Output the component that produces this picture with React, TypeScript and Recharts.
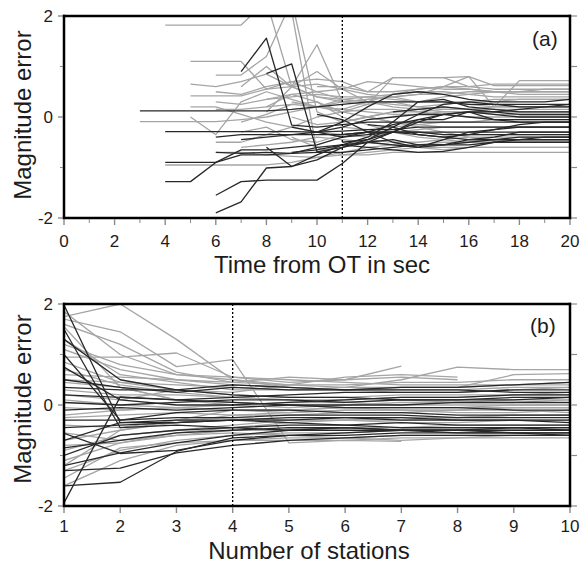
import { LineChart, Line, XAxis, YAxis, ReferenceLine } from "recharts"

const FONT = "'Liberation Sans', Arial, Helvetica, sans-serif"

// tick values
const secTicks = [0, 1, 2, 3, 4, 5, 6, 7, 8, 9, 10, 11, 12, 13, 14, 15, 16, 17, 18, 19, 20]
const staTicks = [1, 2, 3, 4, 5, 6, 7, 8, 9, 10]
const magTicks = [-2, -1, 0, 1, 2]
const magLabels = [-2, 0, 2]

// panel (a): magnitude error vs time from OT; each trace starts at `from` sec, one value per second
type Trace = { from: number; m: number[] }

const secGray: Trace[] = [
  { from: 4, m: [1.82, 1.82, 1.82, 1.82, 2.3, 0.6, 0.4, 0.3, 0.35, 0.4, 0.45, 0.45, 0.5, 0.5, 0.5, 0.5, 0.5] },
  { from: 5, m: [1.1, 1.1, 1.1, 0.55, 0.7, 0.5, 0.35, 0.3, 0.3, 0.2, 0.25, 0.3, 0.3, 0.35, 0.35, 0.35] },
  { from: 6, m: [0.83, 0.83, 1.2, 2.3, 0.1, -0.1, 0.0, 0.1, 0.1, 0.15, 0.15, 0.2, 0.2, 0.2, 0.2] },
  { from: 5, m: [0.42, 0.42, 0.42, 0.55, 0.6, 0.65, 0.55, 0.3, 0.2, 0.15, 0.1, 0.1, 0.05, 0.05, 0.05, 0.05] },
  { from: 6, m: [0.5, 0.45, 0.6, 0.7, 0.75, 0.7, 0.5, 0.78, 0.78, 0.78, 0.8, 0.2, 0.72, 0.72, 0.72] },
  { from: 3, m: [-0.09, -0.09, -0.09, -0.09, -0.05, 0.0, 0.1, 0.2, 0.3, 0.35, 0.4, 0.45, 0.6, 0.8, 0.62, 0.62, 0.62, 0.62] },
  { from: 5, m: [0.0, -0.35, 0.3, 0.5, 0.35, 0.2, 0.1, 0.25, 0.78, 0.78, 0.78, 0.6, 0.55, 0.55, 0.55, 0.55] },
  { from: 8, m: [2.5, 2.1, -0.7, -0.55, -0.45, -0.5, -0.5, -0.45, -0.4, -0.4, -0.4, -0.4, -0.4] },
  { from: 7, m: [0.6, 1.0, 0.6, 1.43, 0.3, 0.25, 0.3, 0.3, 0.3, 0.3, 0.35, 0.35, 0.35, 0.35] },
  { from: 6, m: [0.3, 0.25, 0.35, 0.45, 0.5, 0.55, 0.7, 0.65, 0.6, 0.55, 0.55, 0.5, 0.45, 0.45, 0.45] },
  { from: 5, m: [0.2, 0.2, 0.05, -0.1, -0.2, -0.3, -0.35, -0.4, -0.3, -0.25, -0.2, -0.2, -0.2, -0.2, -0.2, -0.2] },
  { from: 6, m: [-0.5, -0.5, -0.35, -0.2, 0.0, 0.1, 0.15, 0.15, 0.1, 0.05, 0.0, 0.0, 0.0, 0.0, 0.0] },
  { from: 6, m: [-0.7, -0.7, -0.75, -0.78, -0.8, -0.75, -0.7, -0.65, -0.6, -0.6, -0.6, -0.6, -0.6, -0.6, -0.6] },
  { from: 4, m: [-0.95, -0.95, -0.95, -0.95, -0.95, -0.9, -0.8, -0.7, -0.6, -0.55, -0.55, -0.5, -0.5, -0.5, -0.5, -0.5, -0.5] },
  { from: 7, m: [-0.1, 0.05, 0.25, 0.3, 0.1, 0.0, -0.1, -0.15, -0.2, -0.2, -0.2, -0.2, -0.2, -0.2] },
  { from: 8, m: [0.35, 0.4, 0.45, 0.4, 0.4, 0.45, 0.5, 0.5, 0.45, 0.4, 0.4, 0.4, 0.4] },
  { from: 9, m: [-0.4, -0.6, -0.75, -0.75, -0.7, -0.7, -0.7, -0.7, -0.7, -0.7, -0.7, -0.7] },
  { from: 8, m: [0.1, 0.6, 0.9, 0.55, 0.45, 0.4, 0.3, 0.3, 0.25, 0.2, 0.2, 0.2, 0.2] },
  { from: 10, m: [0.6, 0.6, 0.5, 0.5, 0.55, 0.6, 0.6, 0.65, 0.65, 0.65, 0.65] },
  { from: 7, m: [-0.3, -0.2, -0.45, -0.5, -0.35, -0.3, -0.3, -0.3, -0.35, -0.35, -0.35, -0.35, -0.35, -0.35] },
  { from: 9, m: [0.0, -0.15, -0.1, 0.0, 0.1, 0.15, 0.2, 0.15, 0.1, 0.1, 0.1, 0.1] },
  { from: 6, m: [0.15, 0.15, 0.2, 0.25, 0.2, 0.15, 0.1, 0.05, 0.05, 0.1, 0.1, 0.1, 0.1, 0.1, 0.1] },
  { from: 11, m: [-0.2, -0.25, -0.2, -0.15, -0.1, -0.1, -0.05, -0.05, -0.05, -0.05] },
  { from: 8, m: [0.2, 0.45, 0.3, 0.0, -0.15, -0.3, -0.4, -0.45, -0.5, -0.5, -0.5, -0.5, -0.5] },
  { from: 9, m: [0.3, 0.2, 0.15, 0.3, 0.45, 0.55, 0.6, 0.55, 0.5, 0.5, 0.5, 0.5] },
  { from: 7, m: [-0.6, -0.55, -0.5, -0.4, -0.45, -0.5, -0.55, -0.6, -0.65, -0.6, -0.6, -0.6, -0.6, -0.6] },
  { from: 10, m: [0.2, 0.35, 0.4, 0.35, 0.3, 0.4, 0.45, 0.5, 0.5, 0.55, 0.55] },
  { from: 12, m: [0.0, -0.1, -0.2, -0.3, -0.4, -0.45, -0.45, -0.45, -0.45] },
  { from: 5, m: [0.65, 0.6, 0.7, 0.85, 0.6, 0.4, 0.35, 0.3, 0.25, 0.2, 0.15, 0.15, 0.15, 0.15, 0.15, 0.15] },
]

const secBlack: Trace[] = [
  { from: 3, m: [0.12, 0.12, 0.12, 0.12, 0.12, 0.12, 0.15, 0.2, 0.25, 0.3, 0.3, 0.3, 0.3, 0.25, 0.25, 0.25, 0.25, 0.25] },
  { from: 4, m: [-0.29, -0.29, -0.29, -0.29, -0.29, -0.29, -0.3, -0.28, -0.25, -0.25, -0.2, -0.2, -0.2, -0.2, -0.2, -0.2, -0.2] },
  { from: 4, m: [-0.9, -0.9, -0.9, -0.75, -0.75, -0.72, -0.7, -0.7, -0.65, -0.6, -0.55, -0.55, -0.55, -0.5, -0.5, -0.5, -0.5] },
  { from: 4, m: [-1.28, -1.28, -0.9, -0.65, -0.65, -0.6, -0.55, -0.4, -0.3, -0.3, -0.3, -0.35, -0.35, -0.35, -0.35, -0.35, -0.35] },
  { from: 6, m: [-1.55, -1.28, -1.25, -1.25, -1.25, -0.92, -0.5, -0.3, -0.05, -0.05, 0.1, -0.05, -0.1, -0.1, -0.1] },
  { from: 6, m: [-1.9, -1.68, -1.01, -0.98, -0.85, -0.6, -0.5, -0.45, -0.55, -0.55, -0.45, -0.4, -0.3, -0.3, -0.3] },
  { from: 7, m: [0.9, 1.56, -0.16, -0.2, -0.15, -0.1, -0.1, -0.1, -0.1, -0.1, -0.1, -0.1, -0.1, -0.1] },
  { from: 8, m: [0.86, 1.05, -0.69, -0.6, -0.45, -0.3, -0.1, 0.05, 0.1, 0.05, 0.0, 0.0, 0.0] },
  { from: 6, m: [-0.4, -0.35, -0.35, -0.35, -0.35, -0.35, -0.3, -0.3, -0.3, -0.3, -0.3, -0.3, -0.3, -0.3, -0.3] },
  { from: 8, m: [-0.6, -0.98, -0.75, -0.55, -0.4, -0.1, 0.3, 0.35, 0.2, 0.15, 0.1, 0.1, 0.1] },
  { from: 9, m: [-0.7, -0.65, -0.55, -0.6, -0.65, -0.7, -0.68, -0.6, -0.5, -0.45, -0.4, -0.4] },
  { from: 10, m: [-0.3, -0.1, 0.2, 0.45, 0.5, 0.45, 0.35, 0.3, 0.3, 0.3, 0.35] },
  { from: 7, m: [-0.45, -0.4, -0.35, -0.3, -0.2, -0.05, 0.0, 0.05, 0.05, 0.0, -0.05, -0.05, -0.05, -0.05] },
  { from: 10, m: [0.05, -0.05, -0.3, -0.5, -0.6, -0.45, -0.3, -0.25, -0.2, -0.2, -0.2] },
  { from: 11, m: [-0.5, -0.45, -0.2, 0.05, 0.25, 0.3, 0.25, 0.2, 0.2, 0.2] },
  { from: 6, m: [-0.7, -0.72, -0.7, -0.72, -0.6, -0.55, -0.5, -0.55, -0.6, -0.55, -0.5, -0.45, -0.45, -0.45, -0.45] },
  { from: 12, m: [-0.15, -0.2, -0.35, -0.4, -0.35, -0.25, -0.15, -0.1, -0.1] },
  { from: 9, m: [-0.2, -0.3, -0.4, -0.35, -0.3, -0.35, -0.4, -0.45, -0.45, -0.4, -0.4, -0.4] },
  { from: 11, m: [-0.35, -0.3, -0.15, -0.05, 0.05, 0.1, 0.1, 0.05, 0.05, 0.05] },
  { from: 13, m: [0.1, 0.15, 0.2, 0.15, 0.1, 0.15, 0.2, 0.25] },
]

// panel (b): magnitude error vs number of stations, values from 1 station onward
const staGray: number[][] = [
  [1.75, 2.0, 1.3, 0.5, 0.35, 0.3, 0.3, 0.3, 0.35, 0.35],
  [1.7, 1.45, 0.76, 0.9, -0.75, -0.7, -0.72],
  [0.95, 0.95, 1.03, 0.55, 0.45, 0.5, 0.77],
  [1.85, 1.0, 0.6, 0.5, 0.4, 0.35, 0.5, 0.75, 0.7, 0.7],
  [1.3, 0.6, 0.45, 0.3, 0.3, 0.35, 0.35, 0.35, 0.6, 0.62],
  [1.1, 0.7, 0.5, 0.45, 0.55, 0.5, 0.55, 0.5],
  [0.6, 0.55, 0.5, 0.4, 0.35, 0.3, 0.25, 0.25, 0.3, 0.35],
  [0.3, 0.2, 0.2, 0.15, 0.1, 0.1, 0.15, 0.15, 0.2, 0.2],
  [0.1, 0.0, -0.05, 0.0, 0.05, 0.05, 0.1, 0.05, 0.05, 0.1],
  [-0.2, -0.1, -0.05, -0.1, -0.1, -0.05, -0.05, -0.05, 0.0, 0.0],
  [-0.7, -0.5, -0.35, -0.2, -0.15, -0.1, -0.1, -0.15, -0.15, -0.1],
  [-0.9, -0.6, -0.5, -0.4, -0.3, -0.3, -0.25, -0.25, -0.2, -0.2],
  [-1.1, -0.75, -0.6, -0.5, -0.5, -0.45, -0.45, -0.4, -0.4, -0.4],
  [-1.3, -0.9, -0.7, -0.6, -0.55, -0.55, -0.5, -0.5, -0.5, -0.5],
  [-1.45, -0.85, -0.75, -0.7, -0.65, -0.65, -0.6, -0.6, -0.6, -0.6],
  [0.45, 0.35, 0.1, 0.0, -0.05, 0.0, 0.05, 0.05, 0.1, 0.1],
  [0.85, 0.45, 0.3, 0.2, 0.15, 0.15, 0.2, 0.2, 0.2, 0.25],
  [-0.4, -0.45, -0.3, -0.25, -0.3, -0.3, -0.35, -0.35, -0.3, -0.3],
  [-0.55, -0.7, -0.6, -0.55, -0.6, -0.65, -0.7, -0.65, -0.65, -0.65],
  [1.55, 0.35, 0.1, 0.05, 0.0, -0.05, -0.1, -0.1, -0.05, -0.05],
  [0.2, 0.1, 0.3, 0.25, 0.4, 0.55, 0.6, 0.55],
  [-0.8, -0.75, -0.55, -0.45, -0.35, -0.3, -0.3, -0.25, -0.2, -0.2],
  [-0.25, -0.2, -0.15, -0.2, -0.2, -0.15, -0.15, -0.1, -0.1, -0.15],
  [0.5, 0.45, 0.4, 0.35, 0.3, 0.3, 0.35, 0.35, 0.4, 0.45],
  [1.6, 1.2, 0.65, 0.45, 0.4, 0.4, 0.45, 0.45, 0.5, 0.5],
  [1.2, 0.8, 0.6, 0.55, 0.5, 0.45, 0.4, 0.4, 0.4, 0.4],
  [-1.6, -1.1, -0.8, -0.7, -0.7, -0.7, -0.65, -0.65, -0.6, -0.6],
  [-1.2, -0.5, -0.3, -0.1, -0.1, -0.05, -0.05, -0.05, -0.05, -0.05],
  [0.7, 0.4, 0.25, 0.15, 0.1, 0.05, 0.0, 0.0, 0.0, 0.0],
  [-0.05, -0.1, -0.05, -0.1, -0.15, -0.1, -0.1, -0.1, -0.05, -0.05],
]

const staBlack: number[][] = [
  [-1.94, 0.16, 0.1, 0.05, 0.0, -0.05, -0.05, -0.05, -0.1, -0.1],
  [1.98, -0.35, -0.3, -0.3, -0.25, -0.25, -0.3, -0.3, -0.3, -0.35],
  [1.5, -0.45, -0.4, -0.45, -0.5, -0.5, -0.5, -0.55, -0.55, -0.55],
  [1.0, -0.3, -0.15, -0.1, -0.1, -0.15, -0.15, -0.2, -0.2, -0.2],
  [0.75, 0.1, 0.0, 0.0, 0.05, 0.1, 0.15, 0.15, 0.2, 0.2],
  [0.5, 0.35, 0.25, 0.35, 0.3, 0.3, 0.35, 0.35, 0.4, 0.45],
  [-0.56, -0.96, -0.9, -0.7, -0.6, -0.6, -0.55, -0.55, -0.55, -0.6],
  [-1.6, -1.53, -0.92, -0.65, -0.6, -0.55, -0.5, -0.5, -0.45, -0.5],
  [-1.3, -1.25, -0.95, -0.8, -0.7, -0.65, -0.6, -0.6, -0.6, -0.6],
  [-0.3, -0.3, -0.25, -0.25, -0.2, -0.2, -0.2, -0.25, -0.25, -0.25],
  [-0.1, -0.05, -0.1, -0.05, 0.0, 0.0, 0.0, 0.05, 0.05, 0.05],
  [0.2, 0.15, 0.1, 0.15, 0.2, 0.25, 0.25, 0.25, 0.3, 0.3],
  [-1.0, -0.6, -0.5, -0.45, -0.4, -0.4, -0.35, -0.4, -0.4, -0.4],
  [-0.7, -0.35, -0.35, -0.3, -0.35, -0.4, -0.45, -0.45, -0.45, -0.45],
  [0.35, 0.3, 0.3, 0.4, 0.35, 0.3, 0.3, 0.3, 0.25, 0.25],
  [-1.2, -0.95, -0.75, -0.6, -0.5, -0.45, -0.5, -0.5, -0.55, -0.55],
  [1.3, 0.5, 0.3, 0.2, 0.15, 0.15, 0.1, 0.1, 0.1, 0.15],
  [-0.85, -0.7, -0.55, -0.5, -0.45, -0.45, -0.5, -0.5, -0.5, -0.5],
  [0.05, 0.0, 0.05, 0.1, 0.1, 0.05, 0.1, 0.1, 0.15, 0.15],
  [-0.45, -0.4, -0.35, -0.3, -0.3, -0.25, -0.25, -0.3, -0.3, -0.3],
]

const GRAY = "#a5a5a5"
const DARK = "#282828"
const TICK = "#8a8a8a"
const frame = { stroke: "#000", strokeWidth: 2.5, strokeLinecap: "square" as const }
const tickText = { fontFamily: FONT, fontSize: 17, fill: "#1c1c1c" }

const toPts = (from: number, m: number[]) => m.map((v, i) => ({ x: from + i, m: v }))

const bottomTick = (showLabel: (v: number) => boolean, major: (v: number) => boolean, drop: number) => (p: any) => {
  const v = p.payload.value
  return (
    <g>
      <line x1={p.x} x2={p.x} y1={p.y + 1} y2={p.y + (major(v) ? 7 : 5)} stroke={TICK} strokeWidth={major(v) ? 1.4 : 1} />
      {showLabel(v) && (
        <text x={p.x} y={p.y + drop} textAnchor="middle" {...tickText}>
          {v}
        </text>
      )}
    </g>
  )
}

const topTick = (major: (v: number) => boolean) => (p: any) => {
  const v = p.payload.value
  return <line x1={p.x} x2={p.x} y1={p.y - 1} y2={p.y - 6} stroke={TICK} strokeWidth={major(v) ? 1.4 : 1} />
}

const leftTick = (p: any) => {
  const v = p.payload.value
  const lab = magLabels.includes(v)
  return (
    <g>
      <line x1={p.x - (lab ? 6 : 4)} x2={p.x - 1} y1={p.y} y2={p.y} stroke={TICK} strokeWidth={lab ? 1.4 : 1} />
      {lab && (
        <text x={p.x - 11} y={p.y + 6} textAnchor="end" {...tickText}>
          {v}
        </text>
      )}
    </g>
  )
}

const rightTick = (p: any) => <line x1={p.x + 1} x2={p.x + 7} y1={p.y} y2={p.y} stroke={TICK} strokeWidth={1.2} />

const lineProps = { dot: false, activeDot: false, isAnimationActive: false, strokeWidth: 1.3, strokeLinejoin: "round" as const }

function Panel(props: {
  xDomain: [number, number]
  xTicks: number[]
  marker: number
  gray: { x: number; m: number }[][]
  black: { x: number; m: number }[][]
  showLabel: (v: number) => boolean
  major: (v: number) => boolean
  labelDrop: number
}) {
  const { xDomain, xTicks, marker, gray, black, showLabel, major, labelDrop } = props
  return (
    <LineChart width={582} height={255} margin={{ top: 15, right: 11, bottom: 36, left: 63 }}>
      <XAxis
        dataKey="x"
        type="number"
        domain={xDomain}
        ticks={xTicks}
        interval={0}
        height={1}
        tickSize={0}
        tickMargin={0}
        axisLine={frame}
        tickLine={false}
        tick={bottomTick(showLabel, major, labelDrop)}
        allowDataOverflow
      />
      <XAxis
        xAxisId="top"
        orientation="top"
        type="number"
        domain={xDomain}
        ticks={xTicks}
        interval={0}
        height={1}
        tickSize={0}
        tickMargin={0}
        axisLine={frame}
        tickLine={false}
        tick={topTick(major)}
        allowDataOverflow
      />
      <YAxis
        type="number"
        domain={[-2, 2]}
        ticks={magTicks}
        interval={0}
        width={1}
        tickSize={0}
        tickMargin={0}
        axisLine={frame}
        tickLine={false}
        tick={leftTick}
        allowDataOverflow
      />
      <YAxis
        yAxisId="right"
        orientation="right"
        type="number"
        domain={[-2, 2]}
        ticks={magTicks}
        interval={0}
        width={1}
        tickSize={0}
        tickMargin={0}
        axisLine={frame}
        tickLine={false}
        tick={rightTick}
        allowDataOverflow
      />
      {gray.map((d, i) => (
        <Line key={"g" + i} data={d} dataKey="m" stroke={GRAY} {...lineProps} />
      ))}
      {black.map((d, i) => (
        <Line key={"b" + i} data={d} dataKey="m" stroke={DARK} {...lineProps} />
      ))}
      <ReferenceLine x={marker} stroke="#000" strokeWidth={1.3} strokeDasharray="2 2" />
    </LineChart>
  )
}

const title: React.CSSProperties = {
  position: "absolute",
  fontFamily: FONT,
  fontSize: 24,
  color: "#1c1c1c",
  whiteSpace: "nowrap",
  lineHeight: "28px",
}

export default function App() {
  return (
    <div style={{ position: "fixed", left: 0, top: 0, width: 582, height: 565, background: "#fff", overflow: "hidden" }}>
      <div style={{ position: "absolute", left: 0, top: 0 }}>
        <Panel
          xDomain={[0, 20]}
          xTicks={secTicks}
          marker={11}
          gray={secGray.map((t) => toPts(t.from, t.m))}
          black={secBlack.map((t) => toPts(t.from, t.m))}
          showLabel={(v) => v % 2 === 0}
          major={(v) => v % 2 === 0}
          labelDrop={29}
        />
      </div>
      <div style={{ position: "absolute", left: 0, top: 288 }}>
        <Panel
          xDomain={[1, 10]}
          xTicks={staTicks}
          marker={4}
          gray={staGray.map((m) => toPts(1, m))}
          black={staBlack.map((m) => toPts(1, m))}
          showLabel={() => true}
          major={() => true}
          labelDrop={26}
        />
      </div>
      <div style={{ ...title, left: 322, top: 251, transform: "translateX(-50%)" }}>Time from OT in sec</div>
      <div style={{ ...title, left: 309, top: 537, transform: "translateX(-50%)" }}>Number of stations</div>
      <div style={{ ...title, left: 23 - 100, top: 115 - 14, width: 200, textAlign: "center", transform: "rotate(-90deg)" }}>
        Magnitude error
      </div>
      <div style={{ ...title, left: 23 - 100, top: 399 - 14, width: 200, textAlign: "center", transform: "rotate(-90deg)" }}>
        Magnitude error
      </div>
      <div style={{ ...title, fontSize: 21, left: 532, top: 25 }}>(a)</div>
      <div style={{ ...title, fontSize: 21, left: 530, top: 312 }}>(b)</div>
    </div>
  )
}
